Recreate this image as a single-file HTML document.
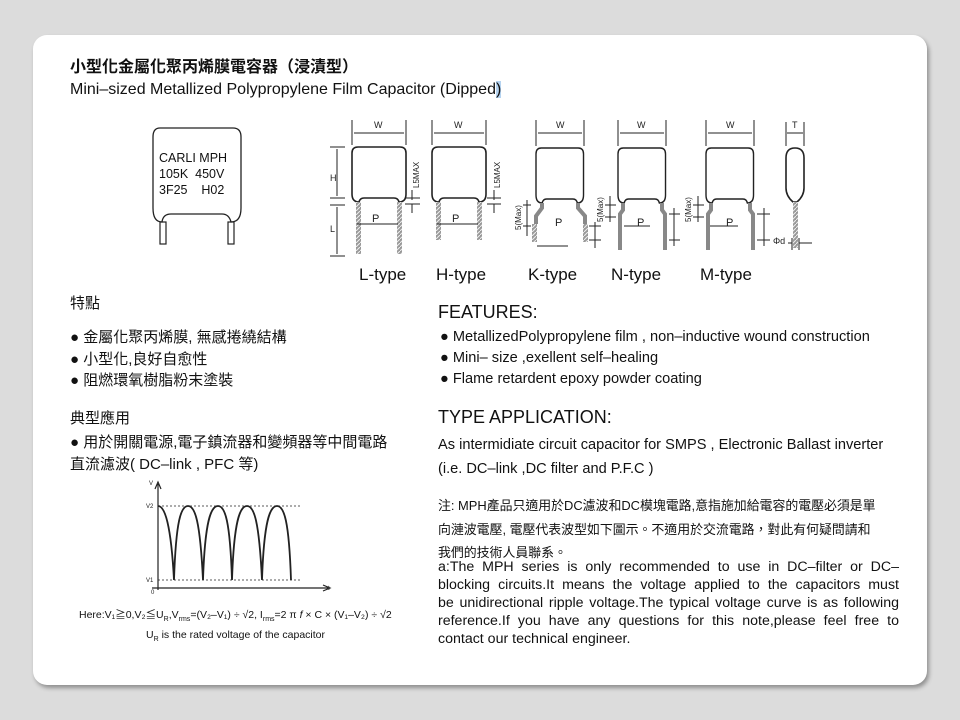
<!DOCTYPE html>
<html><head><meta charset="utf-8"><style>
body{margin:0;width:960px;height:720px;background:#dcdcdc;position:relative;overflow:hidden;font-family:"Liberation Sans","Noto Sans CJK TC",sans-serif;color:#111}
.card{position:absolute;left:33px;top:35px;width:894px;height:650px;background:#fff;border-radius:14px;box-shadow:2px 3px 4px rgba(0,0,0,.35)}
.t{position:absolute;white-space:nowrap;line-height:1}
.j{position:absolute;left:438px;width:461px;font-size:14.2px;line-height:18px}
.j div{text-align:justify;text-align-last:justify;white-space:nowrap}
.j div.l{text-align-last:left}
</style></head><body>
<div class="card"></div>
<div class="t" style="left:70px;top:60px;font-size:16px;font-weight:bold">小型化金屬化聚丙烯膜電容器（浸漬型）</div>
<div class="t" style="left:70px;top:82px;font-size:16px">Mini–sized Metallized Polypropylene Film Capacitor (Dipped<span style="background:#b5d3f0">)</span></div>

<svg width="960" height="720" style="position:absolute;left:0;top:0" fill="none" stroke="#222">
<defs>
<pattern id="st" width="4" height="4" patternUnits="userSpaceOnUse"><rect width="4" height="4" fill="#999" stroke="none"/><path d="M0,4 L4,0" stroke="#eee" stroke-width="1"/></pattern>
<g id="body"><path d="M6,0 H48 Q54,0 54,6 V47 Q54,55 47,55 Q46,51 42,51 H12 Q8,51 7,55 Q0,55 0,47 V6 Q0,0 6,0 Z" stroke-width="1.6"/></g>
</defs>
<path d="M160,128 H233 Q241,128 241,137 V208 Q241,222 231,222 Q229,214 222,214 H171 Q163,214 162,222 Q153,222 153,208 V137 Q153,128 160,128 Z" stroke-width="1.3"/>
<rect x="160" y="222" width="6" height="22" stroke-width="1.2"/>
<rect x="228" y="222" width="6" height="22" stroke-width="1.2"/>
<g transform="translate(352,147)"><use href="#body"/>
<rect x="4" y="55" width="5" height="52" fill="url(#st)" stroke="none"/><rect x="45" y="55" width="5" height="52" fill="url(#st)" stroke="none"/></g>
<g stroke-width="1"><path d="M352,120 V145 M406,120 V145 M354,133 H404"/><path d="M330,147 H345 M337,149 V196 M330,198 H345 M330,205 H345 M337,207 V254 M330,256 H345"/><path d="M357,224 H398 M412,190 V200 M405,198 H420 M405,204 H420 M412,204 V213"/></g>
<g transform="translate(432,147)"><use href="#body"/>
<rect x="4" y="55" width="5" height="38" fill="url(#st)" stroke="none"/><rect x="45" y="55" width="5" height="38" fill="url(#st)" stroke="none"/></g>
<g stroke-width="1"><path d="M432,120 V145 M486,120 V145 M434,133 H484 M437,224 H478 M494,190 V200 M487,198 H501 M487,204 H501 M494,204 V213"/></g>
<g transform="translate(536,148) scale(0.88,1)"><use href="#body"/></g>
<path d="M542,203 V208 L536,216 V224 M578,203 V208 L585,216 V224" stroke-width="4" stroke="#888"/>
<rect x="532" y="224" width="5" height="18" fill="url(#st)" stroke="none"/><rect x="583" y="224" width="5" height="18" fill="url(#st)" stroke="none"/>
<g stroke-width="1"><path d="M536,120 V146 M584,120 V146 M538,133 H582 M527,200 V236 M523,205 H531 M523,226 H531 M537,246 H568 M589,226 H601 M589,240 H601 M595,222 V248"/></g>
<g transform="translate(618,148) scale(0.88,1)"><use href="#body"/></g>
<path d="M623,203 V210 L620,214 V250 M662,203 V210 L665,214 V250" stroke-width="4" stroke="#888"/>
<g stroke-width="1"><path d="M618,120 V146 M666,120 V146 M620,133 H664 M610,196 V222 M605,205 H616 M605,217 H616 M624,226 H650 M669,214 H680 M669,240 H680 M674,208 V246"/></g>
<g transform="translate(706,148) scale(0.88,1)"><use href="#body"/></g>
<path d="M711,203 V210 L708,214 V250 M750,203 V210 L753,214 V250" stroke-width="4" stroke="#888"/>
<g stroke-width="1"><path d="M706,120 V146 M754,120 V146 M708,133 H752 M698,196 V222 M693,205 H704 M693,217 H704 M710,226 H738 M757,214 H770 M757,240 H770 M764,208 V246"/></g>
<path d="M786,158 Q786,148 795,148 Q804,148 804,158 V188 Q804,196 797,202 H793 Q786,196 786,188 Z" stroke-width="1.6"/>
<rect x="793" y="202" width="5" height="46" fill="url(#st)" stroke="none"/>
<g stroke-width="1"><path d="M786,122 V146 M804,122 V146 M787,133 H803 M788,243 H792 M799,243 H812 M792,238 V250 M799,238 V250"/></g>
<g fill="#222" stroke="none" font-size="9" font-family="Liberation Sans">
<text x="374" y="128">W</text><text x="454" y="128">W</text><text x="556" y="128">W</text><text x="637" y="128">W</text><text x="726" y="128">W</text><text x="792" y="128">T</text>
<text x="330" y="181">H</text><text x="330" y="232">L</text><text x="372" y="222" font-size="11">P</text><text x="452" y="222" font-size="11">P</text><text x="555" y="226" font-size="11">P</text><text x="637" y="226" font-size="11">P</text><text x="726" y="226" font-size="11">P</text><text x="773" y="244">Φd</text>
<text transform="translate(419,188) rotate(-90)" font-size="8">L5MAX</text><text transform="translate(500,188) rotate(-90)" font-size="8">L5MAX</text>
<text transform="translate(521,230) rotate(-90)" font-size="8">5(Max)</text><text transform="translate(603,222) rotate(-90)" font-size="8">5(Max)</text><text transform="translate(691,222) rotate(-90)" font-size="8">5(Max)</text>
</g>
<g fill="#111" stroke="none" font-size="17" font-family="Liberation Sans">
<text x="359" y="280">L-type</text><text x="436" y="280">H-type</text><text x="528" y="280">K-type</text><text x="611" y="280">N-type</text><text x="700" y="280">M-type</text>
</g>
<g stroke-width="1.2">
<path d="M158,590 V484 M155,489 L158,482 L161,489" />
<path d="M152,588 H328 M323,585 L330,588 L323,591"/>
<path d="M158,506 H300 M158,580 H300" stroke-dasharray="2,2" stroke-width="0.8"/>
<path d="M158,506 C165,506 171,525 174,580 C176,520 181,506 188,506 C195,506 200,520 203,580 C205,520 211,506 218,506 C225,506 230,520 232,580 C234,520 240,506 247,506 C254,506 259,520 262,580 C264,520 270,506 277,506 C284,506 289,520 291,580" stroke-width="1.8"/>
</g>
<g fill="#222" stroke="none" font-size="6" font-family="Liberation Sans"><text x="149" y="485">V</text><text x="146" y="508">V2</text><text x="146" y="582">V1</text><text x="151" y="594">0</text><text x="328" y="590">t</text></g>
</svg>

<div class="t" style="left:159px;top:150px;font-size:12.5px;line-height:16px;white-space:pre">CARLI MPH
105K  450V
3F25    H02</div>

<div class="t" style="left:70px;top:296px;font-size:15px">特點</div>
<div class="t" style="left:70px;top:327px;font-size:15px;line-height:21.5px">● 金屬化聚丙烯膜, 無感捲繞結構<br>● 小型化,良好自愈性<br>● 阻燃環氧樹脂粉末塗裝</div>
<div class="t" style="left:70px;top:411px;font-size:15px">典型應用</div>
<div class="t" style="left:70px;top:432px;font-size:15px;line-height:22px">● 用於開關電源,電子鎮流器和變頻器等中間電路<br>直流濾波( DC–link , PFC 等)</div>

<div class="t" style="left:438px;top:303px;font-size:18px">FEATURES:</div>
<div class="t" style="left:440px;top:327px;font-size:14.6px;line-height:21px">● MetallizedPolypropylene film ,  non–inductive wound construction<br>●  Mini– size ,exellent self–healing<br>● Flame retardent epoxy powder coating</div>
<div class="t" style="left:438px;top:408px;font-size:18px">TYPE APPLICATION:</div>
<div class="t" style="left:438px;top:433px;font-size:14.6px;line-height:24px">As intermidiate circuit capacitor for SMPS , Electronic Ballast inverter<br>(i.e. DC–link ,DC filter and P.F.C )</div>

<div class="t" style="left:438px;top:494px;font-size:12.9px;line-height:23.5px">注: MPH產品只適用於DC濾波和DC模塊電路,意指施加給電容的電壓必須是單<br>向漣波電壓, 電壓代表波型如下圖示。不適用於交流電路，對此有何疑問請和<br>我們的技術人員聯系。</div>
<div class="j" style="top:558px">
<div>a:The MPH series is only recommended to use in DC–filter or DC–</div>
<div>blocking circuits.It means the voltage applied to the capacitors must</div>
<div>be unidirectional ripple voltage.The typical voltage curve is as following</div>
<div>reference.If you have any questions for this note,please feel free to</div>
<div class="l">contact our technical engineer.</div>
</div>

<div class="t" style="left:79px;top:610px;font-size:10.5px">Here:V₁≧0,V₂≦U<sub style="font-size:7px">R</sub>,V<sub style="font-size:7px">rms</sub>=(V₂–V₁) ÷ √2, I<sub style="font-size:7px">rms</sub>=2 π <i>f</i> × C × (V₁–V₂) ÷ √2</div>
<div class="t" style="left:146px;top:630px;font-size:10.5px">U<sub style="font-size:7px">R</sub> is the rated voltage of the capacitor</div>
</body></html>
